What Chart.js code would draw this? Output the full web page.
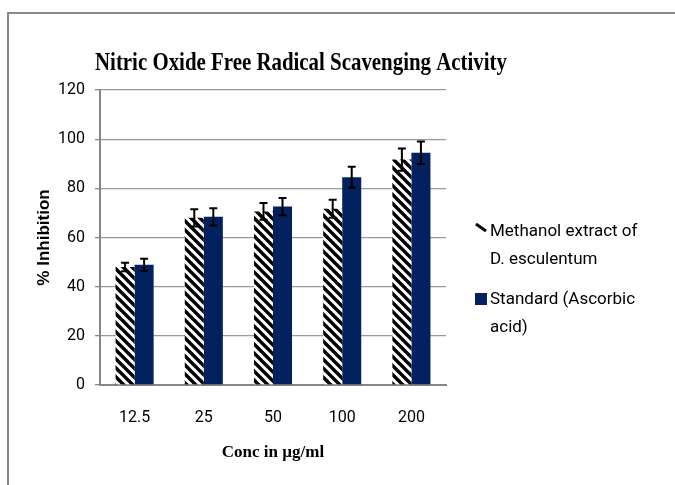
<!DOCTYPE html>
<html>
<head>
<meta charset="utf-8">
<script src="https://cdn.jsdelivr.net/npm/chart.js@4.4.1/dist/chart.umd.min.js"></script>
<style>
  html, body { margin: 0; padding: 0; background: #fff; }
  #wrap { position: relative; width: 675px; height: 485px; }
</style>
</head>
<body>
<div id="wrap"><canvas id="chart" width="675" height="485"></canvas></div>
<script>
const concLabels = ['12.5', '25', '50', '100', '200'];
const methanolValues = [48, 68, 70.6, 71.7, 91.7];
const methanolErrors = [1.7, 3.5, 3.4, 3.7, 4.5];
const standardValues = [48.9, 68.4, 72.6, 84.5, 94.5];
const standardErrors = [2.5, 3.5, 3.5, 4.3, 4.6];
const seriesNames = [['Methanol extract of', 'D. esculentum'], ['Standard (Ascorbic', 'acid)']];
const chartTitle = 'Nitric Oxide Free Radical Scavenging Activity';

const tickFont = { family: 'Roboto', size: 16 };

function hatchPattern() {
  const c = document.createElement('canvas');
  c.width = 9; c.height = 9;
  const g = c.getContext('2d');
  g.fillStyle = '#fff';
  g.fillRect(0, 0, 9, 9);
  g.strokeStyle = '#000';
  g.lineWidth = 3.4;
  for (let k = -1; k <= 1; k++) {
    g.beginPath();
    g.moveTo(-2, -2 + 9 * k);
    g.lineTo(11, 11 + 9 * k);
    g.stroke();
  }
  return g.createPattern(c, 'repeat');
}

const errorBars = {
  id: 'errorBars',
  afterDatasetsDraw(chart) {
    const { ctx } = chart;
    const y = chart.scales.y;
    const errs = [methanolErrors, standardErrors];
    ctx.save();
    ctx.strokeStyle = '#000';
    ctx.lineWidth = 2;
    chart.data.datasets.forEach((ds, i) => {
      chart.getDatasetMeta(i).data.forEach((bar, j) => {
        const top = y.getPixelForValue(ds.data[j] + errs[i][j]);
        const bot = y.getPixelForValue(ds.data[j] - errs[i][j]);
        ctx.beginPath();
        ctx.moveTo(bar.x, top); ctx.lineTo(bar.x, bot);
        ctx.moveTo(bar.x - 4, top); ctx.lineTo(bar.x + 4, top);
        ctx.moveTo(bar.x - 4, bot); ctx.lineTo(bar.x + 4, bot);
        ctx.stroke();
      });
    });
    ctx.restore();
  }
};

const frameAndText = {
  id: 'frameAndText',
  beforeDraw(chart) {
    const { ctx } = chart;
    ctx.save();
    ctx.fillStyle = '#fff';
    ctx.fillRect(0, 0, chart.width, chart.height);
    ctx.strokeStyle = '#8a8a8a';
    ctx.lineWidth = 2;
    ctx.beginPath();
    ctx.moveTo(8, chart.height); ctx.lineTo(8, 13); ctx.lineTo(chart.width, 13);
    ctx.stroke();
    ctx.restore();
  },
  afterDraw(chart) {
    const { ctx } = chart;
    ctx.save();
    // title, squeezed like the original
    ctx.font = 'bold 26px "Liberation Serif"';
    ctx.fillStyle = '#000';
    ctx.textBaseline = 'alphabetic';
    const w = ctx.measureText(chartTitle).width;
    ctx.translate(301, 70);
    ctx.scale(412 / w, 1);
    ctx.textAlign = 'center';
    ctx.fillText(chartTitle, 0, 0);
    ctx.restore();

    // legend
    ctx.save();
    ctx.font = '17px Roboto';
    ctx.fillStyle = '#000';
    ctx.textBaseline = 'middle';
    const rows = [232, 300];
    seriesNames.forEach((lines, i) => {
      const y0 = rows[i];
      if (i === 0) {
        ctx.strokeStyle = '#000';
        ctx.lineWidth = 3;
        ctx.beginPath();
        ctx.moveTo(476, 224); ctx.lineTo(486, 231);
        ctx.stroke();
      } else {
        ctx.fillStyle = chart.data.datasets[1].backgroundColor;
        ctx.fillRect(475, y0 - 7, 12, 12);
        ctx.fillStyle = '#000';
      }
      lines.forEach((t, k) => ctx.fillText(t, 490, y0 + k * 28));
    });
    ctx.restore();
  }
};

new Chart(document.getElementById('chart'), {
  type: 'bar',
  data: {
    labels: concLabels,
    datasets: [
      { label: seriesNames[0].join(' '), data: methanolValues, backgroundColor: hatchPattern(), borderWidth: 0 },
      { label: seriesNames[1].join(' '), data: standardValues, backgroundColor: '#03215f', borderWidth: 0 }
    ]
  },
  options: {
    responsive: false,
    animation: false,
    categoryPercentage: 0.55,
    barPercentage: 1,
    layout: { padding: { left: 0, right: 229, top: 90, bottom: 0 } },
    plugins: { legend: { display: false }, title: { display: false }, tooltip: { enabled: false } },
    scales: {
      x: {
        grid: { display: false, drawTicks: false },
        border: { display: true, color: '#868686', width: 2 },
        ticks: { font: tickFont, color: '#000', padding: 23 },
        title: { display: true, text: 'Conc in µg/ml', color: '#000', font: { family: 'Liberation Serif', size: 17, weight: 'bold' }, padding: { top: 0, bottom: 22 } },
        afterFit: (s) => { s.height = 100; }
      },
      y: {
        min: 0, max: 120,
        ticks: { stepSize: 20, font: tickFont, color: '#000', padding: 10 },
        grid: { color: '#999', lineWidth: 1.3, tickLength: 5, tickColor: '#868686' },
        border: { display: true, color: '#868686', width: 2 },
        title: { display: true, text: '% Inhibition', color: '#000', font: { family: 'Liberation Sans', size: 17, weight: 'bold' }, padding: { top: 34, bottom: 0 } },
        afterFit: (s) => { s.width = 100; }
      }
    }
  },
  plugins: [frameAndText, errorBars]
});
</script>
</body>
</html>
